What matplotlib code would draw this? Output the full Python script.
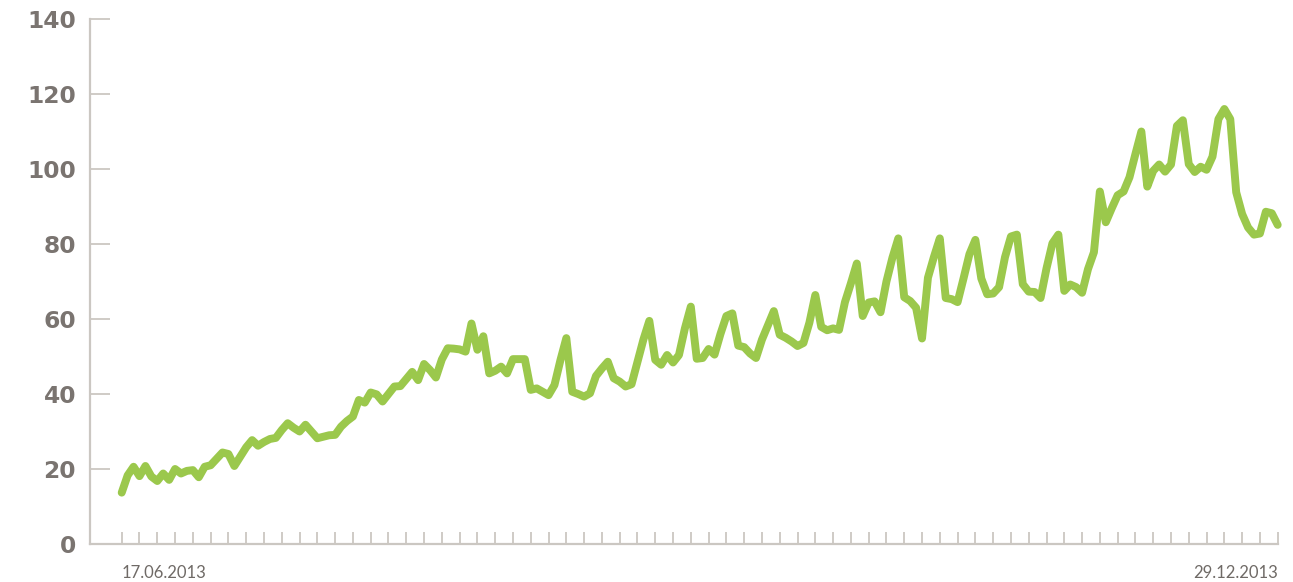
import numpy as np
import pandas as pd
import matplotlib
matplotlib.use('Agg')
import matplotlib.pyplot as plt

# daily values 17.06.2013 .. 29.12.2013
start_date = '2013-06-17'
end_date = '2013-12-29'
values = [
    13.7, 18.3, 20.6, 18.1, 20.8, 18.0, 16.8, 18.8, 17.1, 20.0,
    18.8, 19.5, 19.7, 17.8, 20.6, 21.0, 22.7, 24.4, 24.0, 20.8,
    23.3, 25.8, 27.7, 26.2, 27.2, 28.0, 28.3, 30.4, 32.2, 31.0,
    30.0, 31.8, 30.0, 28.2, 28.6, 29.0, 29.1, 31.3, 32.8, 34.0,
    38.4, 37.7, 40.4, 39.9, 38.0, 40.0, 42.0, 42.1, 44.0, 45.9,
    43.7, 48.0, 46.4, 44.4, 49.2, 52.2, 52.1, 51.9, 51.3, 58.8,
    51.8, 55.4, 45.5, 46.2, 47.3, 45.5, 49.3, 49.3, 49.3, 41.1,
    41.5, 40.6, 39.7, 42.4, 49.0, 54.9, 40.6, 40.0, 39.3, 40.2,
    44.8, 46.8, 48.6, 44.2, 43.3, 42.0, 42.6, 48.5, 54.5, 59.5,
    49.1, 47.8, 50.4, 48.4, 50.4, 57.5, 63.3, 49.4, 49.6, 52.0,
    50.5, 56.0, 60.8, 61.5, 52.9, 52.5, 50.8, 49.6, 54.5, 58.3,
    62.1, 55.8, 55.0, 54.0, 52.8, 53.6, 59.0, 66.4, 57.9, 57.0,
    57.5, 57.1, 64.5, 69.5, 74.8, 60.8, 64.4, 64.7, 61.8, 70.0,
    76.3, 81.5, 65.8, 64.8, 63.0, 54.8, 71.0, 76.5, 81.5, 65.6,
    65.3, 64.5, 70.8, 77.3, 81.1, 70.8, 66.6, 66.8, 68.5, 76.5,
    82.0, 82.5, 69.3, 67.3, 67.2, 65.6, 73.5, 80.2, 82.5, 67.5,
    69.2, 68.5, 67.0, 73.3, 77.8, 94.0, 85.8, 89.5, 93.0, 94.0,
    97.8, 104.0, 110.0, 95.3, 99.5, 101.2, 99.3, 101.2, 111.5, 113.0,
    101.3, 99.2, 100.6, 99.8, 103.3, 113.3, 116.0, 113.3, 93.8, 88.0,
    84.4, 82.5, 82.8, 88.6, 88.2, 85.1,
]
y_ticks = [0, 20, 40, 60, 80, 100, 120, 140]

dates = pd.date_range(start_date, end_date, freq='D')
x = np.arange(len(dates))

line_color = '#9bc84c'
axis_color = '#cbc7c2'
text_color = '#7a7470'

fig = plt.figure(figsize=(12.93, 5.82), dpi=100)
ax = fig.add_axes([90 / 1293, 1 - 544 / 582, (1277.7 - 90) / 1293, (544 - 19) / 582])

ax.plot(x, values, color=line_color, lw=5.7, solid_joinstyle='round',
        solid_capstyle='round', clip_on=False)

ax.set_xlim(-5.35, len(dates) - 1)
ax.set_ylim(0, 140)

for s in ['top', 'right']:
    ax.spines[s].set_visible(False)
for s in ['left', 'bottom']:
    ax.spines[s].set_color(axis_color)
    ax.spines[s].set_linewidth(1.6)

ax.set_yticks(y_ticks)
ax.set_yticklabels([str(v) for v in y_ticks], fontsize=16.8, fontweight='bold',
                   color=text_color, family='DejaVu Sans')
ax.tick_params(axis='y', direction='in', length=14.4, width=1.3, color=axis_color, pad=10)

xt = x[::3]
labels = [''] * len(xt)
labels[0] = dates[0].strftime('%d.%m.%Y')
labels[-1] = dates[-1].strftime('%d.%m.%Y')
ax.set_xticks(xt)
ax.set_xticklabels(labels, fontsize=12, color='#6f6a66', family='Lato')
ax.tick_params(axis='x', direction='in', length=8.6, width=1.3, color=axis_color, pad=15)
tl = ax.get_xticklabels()
tl[0].set_ha('left')
tl[-1].set_ha('right')

fig.savefig('out.png', dpi=100)
